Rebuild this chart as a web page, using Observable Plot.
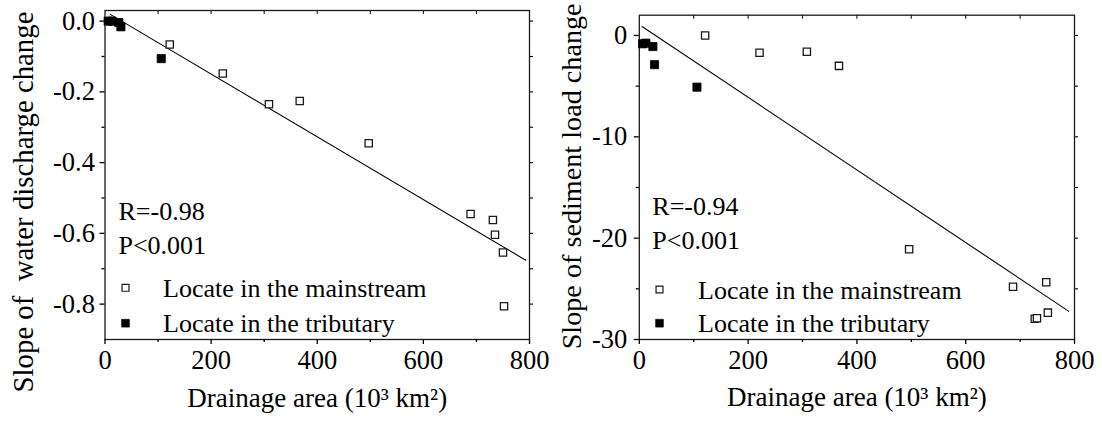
<!DOCTYPE html>
<html><head><meta charset="utf-8">
<script src="https://cdn.jsdelivr.net/npm/d3@7"></script>
<script src="https://cdn.jsdelivr.net/npm/@observablehq/plot@0.6"></script>
<style>
html,body{margin:0;padding:0;background:#fff;}
#wrap{display:flex;width:1102px;height:421px;overflow:hidden;}
#wrap svg{display:block;flex:none;font-family:"Liberation Serif",serif !important;}
#wrap svg text, #wrap svg g{font-family:"Liberation Serif",serif !important;}
svg text{white-space:pre;}
</style></head><body><div id="wrap"></div>
<script>
// ---- data ----
const waterMainArea = [122, 222, 309, 367, 497, 689, 731, 735, 750, 752];
const waterMainSlope = [-0.066, -0.148, -0.235, -0.226, -0.345, -0.545, -0.562, -0.604, -0.654, -0.806];
const waterTribArea = [6, 13, 26, 30, 106];
const waterTribSlope = [0.0, 0.0, -0.004, -0.016, -0.106];
const waterFitArea = [10, 793];
const waterFitSlope = [0.019, -0.676];

const sedMainArea = [121, 221, 308, 367, 496, 687, 727, 731, 748, 751];
const sedMainSlope = [0.0, -1.7, -1.6, -3.0, -21.1, -24.8, -27.95, -27.9, -24.35, -27.35];
const sedTribArea = [6, 12, 25, 28, 106];
const sedTribSlope = [-0.82, -0.76, -1.09, -2.88, -5.1];
const sedFitArea = [5, 789];
const sedFitSlope = [0.88, -27.2];

const xMajor = [0, 200, 400, 600, 800];
const xMinor = [100, 300, 500, 700];
const xTop = [100, 200, 300, 400, 500, 600, 700];

const waterYMajor = [0, -0.2, -0.4, -0.6, -0.8];
const waterYMinor = [-0.1, -0.3, -0.5, -0.7];
const waterYRight = [0, -0.1, -0.2, -0.3, -0.4, -0.5, -0.6, -0.7, -0.8];
const sedYMajor = [0, -10, -20, -30];
const sedYMinor = [-5, -15, -25];
const sedYRight = [0, -5, -10, -15, -20, -25];

const legendLabels = ["Locate in the mainstream", "Locate in the tributary"];
const xTitle = "Drainage area (10³ km²)";

const zip = (a, b) => a.map((v, i) => ({a: v, s: b[i]}));
const FONT = "Liberation Serif";
const TICK_FS = 26.5;

function panel(o) {
  const frameH = o.height - o.marginTop - o.marginBottom;
  const ink = "#1a1a1a";
  const T = (txt, anchor, dx, dy, extra = {}) => Plot.text([txt], {frameAnchor: anchor, text: d => d, dx, dy, fill: "black", fontFamily: FONT, ...extra});
  return Plot.plot({
    width: o.width, height: o.height,
    marginLeft: o.marginLeft, marginRight: o.marginRight,
    marginTop: o.marginTop, marginBottom: o.marginBottom,
    style: {fontFamily: FONT, fontSize: "25px", color: "black", background: "white", overflow: "visible"},
    x: {domain: [0, 800]},
    y: {domain: o.yDomain},
    marks: [
      Plot.frame({stroke: ink, strokeWidth: 1.3}),
      Plot.axisX(xMajor, {tickSize: 5, tickPadding: 6, tickFormat: d => String(d), fontSize: TICK_FS, fontFamily: FONT, label: null, color: "black", strokeWidth: 1.3}),
      Plot.axisX(xMinor, {tickSize: 3, tickFormat: () => "", label: null, strokeWidth: 1.3}),
      Plot.tickX(xTop, {x: d => d, insetBottom: frameH - 4, stroke: ink, strokeWidth: 1.1}),
      Plot.axisY(o.yMajor, {tickSize: 5, tickPadding: o.tickPadY, tickFormat: o.fmt, fontSize: TICK_FS, fontFamily: FONT, label: null, color: "black", strokeWidth: 1.3}),
      Plot.axisY(o.yMinor, {tickSize: 3, tickFormat: () => "", label: null, strokeWidth: 1.3}),
      Plot.axisY(o.yRight, {anchor: "right", tickSize: 3, tickFormat: () => "", label: null, strokeWidth: 1.1}),
      Plot.line(zip(o.fitA, o.fitS), {x: "a", y: "s", stroke: "black", strokeWidth: 1.1}),
      Plot.dot(zip(o.mainA, o.mainS), {x: "a", y: "s", symbol: "square", r: 4.1, stroke: ink, strokeWidth: 1.3, fill: "white"}),
      Plot.dot(zip(o.tribA, o.tribS), {x: "a", y: "s", symbol: "square", r: 4.6, stroke: "black", strokeWidth: 0.8, fill: "black"}),
      T(o.rText, "top-left", o.rDx, o.rDy, {textAnchor: "start", lineAnchor: "middle", fontSize: 26}),
      T("P<0.001", "top-left", o.rDx, o.pDy, {textAnchor: "start", lineAnchor: "middle", fontSize: 26}),
      Plot.dot([0], {frameAnchor: "top-left", dx: o.legDx, dy: o.leg1Dy, symbol: "square", r: 3.9, stroke: ink, strokeWidth: 1.2, fill: "white"}),
      Plot.dot([0], {frameAnchor: "top-left", dx: o.legDx, dy: o.leg2Dy, symbol: "square", r: 4.4, stroke: "black", strokeWidth: 0.6, fill: "black"}),
      T(legendLabels[0], "top-left", o.legTextDx, o.leg1Dy + 1, {textAnchor: "start", lineAnchor: "middle", fontSize: 26}),
      T(legendLabels[1], "top-left", o.legTextDx, o.leg2Dy, {textAnchor: "start", lineAnchor: "middle", fontSize: 26}),
      T(o.yTitle, "left", o.yTitleDx, o.yTitleDy, {rotate: -90, textAnchor: "middle", lineAnchor: "middle", fontSize: o.yTitleFs}),
      T(xTitle, "bottom", 0, o.xTitleDy, {textAnchor: "middle", lineAnchor: "middle", fontSize: 27})
    ]
  });
}

const wrap = document.getElementById("wrap");
wrap.append(panel({
  width: 551, height: 421, marginLeft: 104.5, marginRight: 22, marginTop: 10, marginBottom: 82,
  yDomain: [-0.9, 0.03], yMajor: waterYMajor, yMinor: waterYMinor, yRight: waterYRight,
  fmt: d => (Math.abs(d) < 1e-9 ? "0.0" : d.toFixed(1)), tickPadY: 5,
  mainA: waterMainArea, mainS: waterMainSlope, tribA: waterTribArea, tribS: waterTribSlope,
  fitA: waterFitArea, fitS: waterFitSlope,
  rText: "R=-0.98", rDx: 13.5, rDy: 200.7, pDy: 235,
  legDx: 20.5, leg1Dy: 277.3, leg2Dy: 312.7, legTextDx: 58,
  yTitle: "Slope of  water discharge change", yTitleDx: -81.5, yTitleDy: 27, yTitleFs: 28.8, xTitleDy: 59
}));
wrap.append(panel({
  width: 551, height: 421, marginLeft: 87.8, marginRight: 28, marginTop: 14.7, marginBottom: 82,
  yDomain: [-30, 2], yMajor: sedYMajor, yMinor: sedYMinor, yRight: sedYRight,
  fmt: d => String(d), tickPadY: 7,
  mainA: sedMainArea, mainS: sedMainSlope, tribA: sedTribArea, tribS: sedTribSlope,
  fitA: sedFitArea, fitS: sedFitSlope,
  rText: "R=-0.94", rDx: 13, rDy: 191.3, pDy: 225.3,
  legDx: 20.2, leg1Dy: 274.3, leg2Dy: 308, legTextDx: 58.8,
  yTitle: "Slope of sediment load change", yTitleDx: -67.8, yTitleDy: -1, yTitleFs: 28.2, xTitleDy: 58
}));
</script></body></html>
